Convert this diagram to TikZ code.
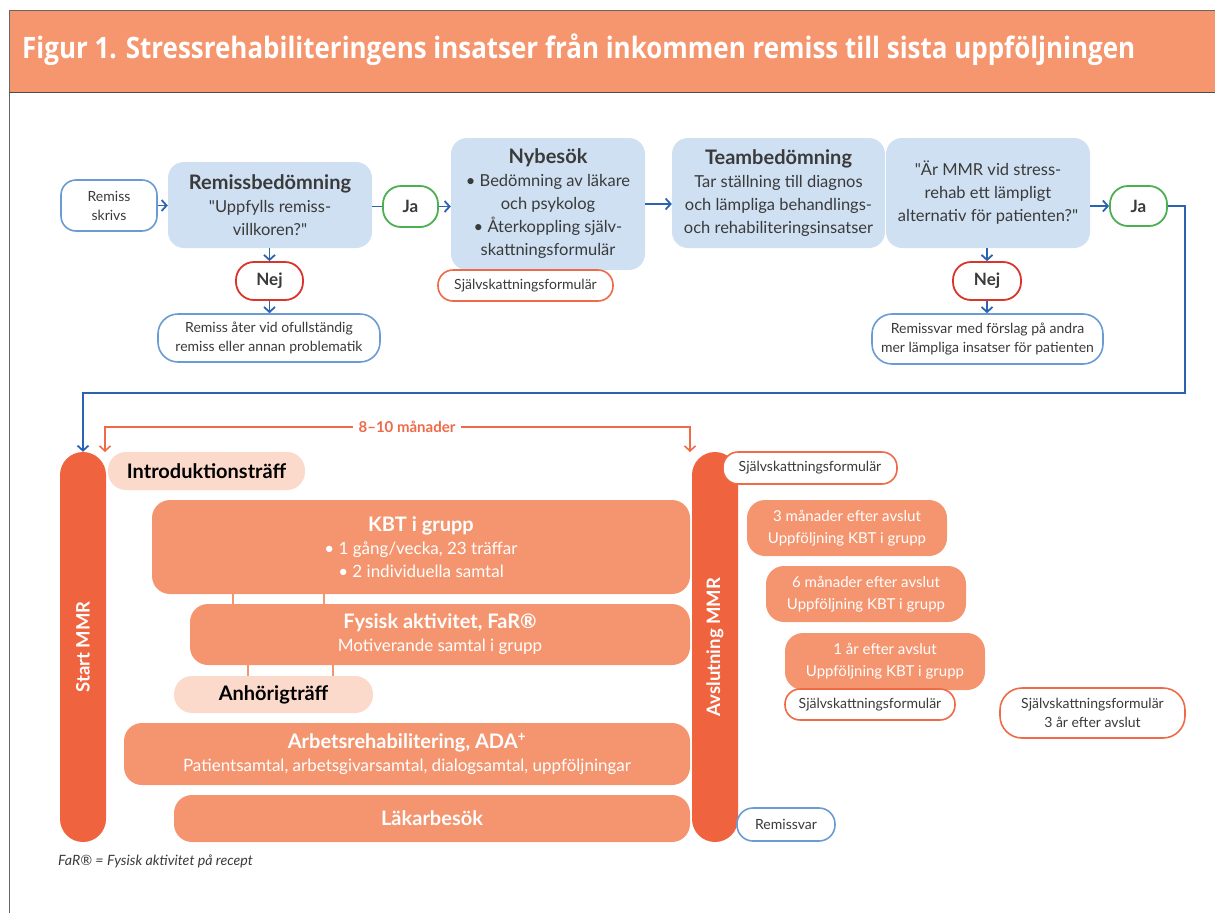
\documentclass[tikz,border=0pt]{standalone}
\usepackage{fontspec}
\setmainfont{Lato}
\newfontfamily\qfont{Lato}
\newfontfamily\titlefont[FakeStretch=0.88]{Open Sans}
\usetikzlibrary{arrows.meta,positioning}

\definecolor{hdrfill}{HTML}{F5966F}
\definecolor{paleblue}{HTML}{CFE0F2}
\definecolor{lineblue}{HTML}{2B63B0}
\definecolor{edgeblue}{HTML}{6B9BD3}
\definecolor{okgreen}{HTML}{4CB050}
\definecolor{nored}{HTML}{D8362B}
\definecolor{edgeorange}{HTML}{EE6A48}
\definecolor{salmon}{HTML}{F4956F}
\definecolor{barorange}{HTML}{EF633F}
\definecolor{peach}{HTML}{FCDACB}
\definecolor{txtgray}{HTML}{3A3A3A}

\newcommand{\hd}[1]{{\bfseries\fontsize{20}{24}\selectfont #1}}
\newcommand{\dq}{{\qfont"}}

\begin{document}
\begin{tikzpicture}[
    x=1pt, y=-1pt,
    every node/.style={text=txtgray, inner sep=0pt, align=center},
    bluebox/.style={fill=paleblue, rounded corners=16pt, font=\fontsize{16.5}{23}\selectfont},
    pill/.style={draw, line width=1.6pt, fill=white, rounded corners=15pt, font=\fontsize{14}{19}\selectfont},
    bluepill/.style={pill, draw=edgeblue},
    orangepill/.style={pill, draw=edgeorange},
    yesno/.style={draw, line width=1.8pt, fill=white, rounded corners=18pt, font=\bfseries\fontsize{17}{19}\selectfont},
    janode/.style={yesno, draw=okgreen},
    nejnode/.style={yesno, draw=nored},
    bar/.style={fill=barorange, rounded corners=23pt, text=white, font=\bfseries\fontsize{18.5}{20}\selectfont},
    salmonbox/.style={fill=salmon, rounded corners=18pt, text=white, font=\fontsize{17}{23}\selectfont},
    peachbox/.style={fill=peach, rounded corners=18pt, text=black, font=\bfseries\fontsize{20}{22}\selectfont},
    followup/.style={salmonbox, minimum width=200pt, font=\fontsize{15}{22}\selectfont},
    link/.style={draw=salmon, line width=1.5pt},
    barrow/.style={draw=lineblue, line width=1.8pt, -{Straight Barb[length=5pt,width=11pt]}},
    oarrow/.style={draw=edgeorange, line width=1.6pt, -{Straight Barb[length=5pt,width=11pt]}}
]
\useasboundingbox (0,0) rectangle (1215,913);

% header
\fill[hdrfill] (9,10) rectangle (1215,92);
\draw[gray!80!black, line width=1pt] (1215,10) -- (9,10) -- (9,913);
\draw[black!70, line width=1pt] (9,92) -- (1215,92);
\node[anchor=west, text=white, font=\titlefont\bfseries\fontsize{29.5}{31}\selectfont] (title) at (22,50)
  {Figur 1. Stressrehabiliteringens insatser från inkommen remiss till sista uppföljningen};

% top row
\node[bluepill, minimum width=96pt, minimum height=51pt] (skriv) at (109,205.5) {Remiss\\skrivs};
\node[bluebox, minimum width=204pt, minimum height=86pt] (rbed) at (270,205)
  {\hd{Remissbedömning}\\\dq Uppfylls remiss-\\villkoren?\dq};
\node[janode, minimum width=55pt, minimum height=41pt] (ja1) at (410.5,206.5) {Ja};
\node[bluebox, minimum width=194pt, minimum height=132pt] (nyb) at (548,204)
  {\hd{Nybesök}\\• Bedömning av läkare\\och psykolog\\• Återkoppling själv-\\skattningsformulär};
\node[orangepill, minimum width=175pt, minimum height=31pt] (sjalv1) at (525.5,285.5) {Självskattningsformulär};
\node[bluebox, minimum width=213pt, minimum height=110pt] (team) at (778.5,193)
  {\hd{Teambedömning}\\Tar ställning till diagnos\\och lämpliga behandlings-\\och rehabiliteringsinsatser};
\node[bluebox, minimum width=204pt, minimum height=110pt] (fraga) at (988,193)
  {\dq Är MMR vid stress-\\rehab ett lämpligt\\alternativ för patienten?\dq};
\node[janode, minimum width=57pt, minimum height=40pt] (ja2) at (1138.5,206) {Ja};

\node[nejnode, minimum width=67pt, minimum height=38pt] (nej1) at (269.5,281) {Nej};
\node[bluepill, minimum width=222pt, minimum height=48pt, rounded corners=20pt] (ater) at (269,338)
  {Remiss åter vid ofullständig\\remiss eller annan problematik};
\node[nejnode, minimum width=68pt, minimum height=38pt] (nej2) at (987,281) {Nej};
\node[bluepill, minimum width=231pt, minimum height=50pt, rounded corners=20pt] (rsvar1) at (987.5,339)
  {Remissvar med förslag på andra\\mer lämpliga insatser för patienten};

\draw[barrow] (skriv.east) -- (skriv.east -| rbed.west);
\draw[lineblue, line width=1.8pt] (rbed.east |- ja1.west) -- (ja1.west);
\draw[barrow] (ja1.east) -- (ja1.east -| nyb.west);
\draw[barrow] (nyb.east) -- (nyb.east -| team.west);
\draw[barrow] (fraga.east |- ja2.west) -- (ja2.west);
\draw[barrow] (nej1.north |- rbed.south) -- (nej1.north);
\draw[barrow] (nej1.south) -- (nej1.south |- ater.north);
\draw[barrow] (nej2.north |- fraga.south) -- (nej2.north);
\draw[barrow] (nej2.south) -- (nej2.south |- rsvar1.north);

% MMR period
\node[salmonbox, minimum width=538pt, minimum height=94pt] (kbt) at (421,547)
  {\hd{KBT i grupp}\\• 1 gång/vecka, 23 träffar\\• 2 individuella samtal};
\node[salmonbox, minimum width=500pt, minimum height=61pt] (fysisk) at (440,634.5)
  {\hd{Fysisk aktivitet, FaR®}\\Motiverande samtal i grupp};
\node[peachbox, minimum width=199pt, minimum height=37pt] (anhor) at (273.5,694.5) {Anhörigträff};
\node[salmonbox, minimum width=566pt, minimum height=62pt] (arbets) at (407,754)
  {\hd{Arbetsrehabilitering, ADA\textsuperscript{+}}\\Patientsamtal, arbetsgivarsamtal, dialogsamtal, uppföljningar};
\node[salmonbox, minimum width=516pt, minimum height=47pt] (lakar) at (432,818.5) {\hd{Läkarbesök}};
\node[peachbox, minimum width=197pt, minimum height=38pt] (intro) at (206.5,471) {Introduktionsträff};

\draw[link] (kbt.south -| 233,0) -- (fysisk.north -| 233,0);
\draw[link] (kbt.south -| 324,0) -- (fysisk.north -| 324,0);
\draw[link] (fysisk.south -| 248,0) -- (anhor.north -| 248,0);
\draw[link] (fysisk.south -| 333,0) -- (anhor.north -| 333,0);

\node[bar, minimum width=46pt, minimum height=390pt] (start) at (83,647) {};
\node[rotate=90, text=white, font=\bfseries\fontsize{18.5}{20}\selectfont] (startlbl) at (start.center) {Start MMR};
\node[bar, minimum width=46pt, minimum height=390pt] (avsl) at (715,647) {};
\node[rotate=90, text=white, font=\bfseries\fontsize{18.5}{20}\selectfont] (avsllbl) at (avsl.center) {Avslutning MMR};

% duration bracket
\node[fill=white, inner xsep=5pt, text=edgeorange, font=\bfseries\fontsize{15}{16}\selectfont] (manad) at (407,427) {8–10 månader};
\coordinate (brL) at (105,452);
\coordinate (brR) at (690,452);
\draw[oarrow] (manad.west) -| (brL);
\draw[oarrow] (manad.east) -| (brR);

% loop from Ja to start
\coordinate (loop) at (1185,393);
\draw[barrow] (ja2.east) -| (loop) -| (start.north);

% follow-up
\node[orangepill, minimum width=174pt, minimum height=32pt] (sjalv2) at (810,468) {Självskattningsformulär};
\node[followup, minimum height=56pt] (f3m) at (847,528) {3 månader efter avslut\\Uppföljning KBT i grupp};
\node[followup, minimum height=56pt] (f6m) at (866,594) {6 månader efter avslut\\Uppföljning KBT i grupp};
\node[followup, minimum height=57pt] (f1a) at (885,661.5) {1 år efter avslut\\Uppföljning KBT i grupp};
\node[orangepill, minimum width=170pt, minimum height=31pt] (sjalv3) at (870,704.5) {Självskattningsformulär};
\node[orangepill, minimum width=185pt, minimum height=50pt, rounded corners=22pt] (sjalv4) at (1092.5,713)
  {Självskattningsformulär\\3 år efter avslut};
\node[bluepill, minimum width=98pt, minimum height=33pt, rounded corners=16pt] (rsvar2) at (786,824.5) {Remissvar};

% footnote
\node[anchor=west, font=\itshape\fontsize{14.2}{16}\selectfont] (fotnot) at (58,861) {FaR® = Fysisk aktivitet på recept};
\end{tikzpicture}
\end{document}
